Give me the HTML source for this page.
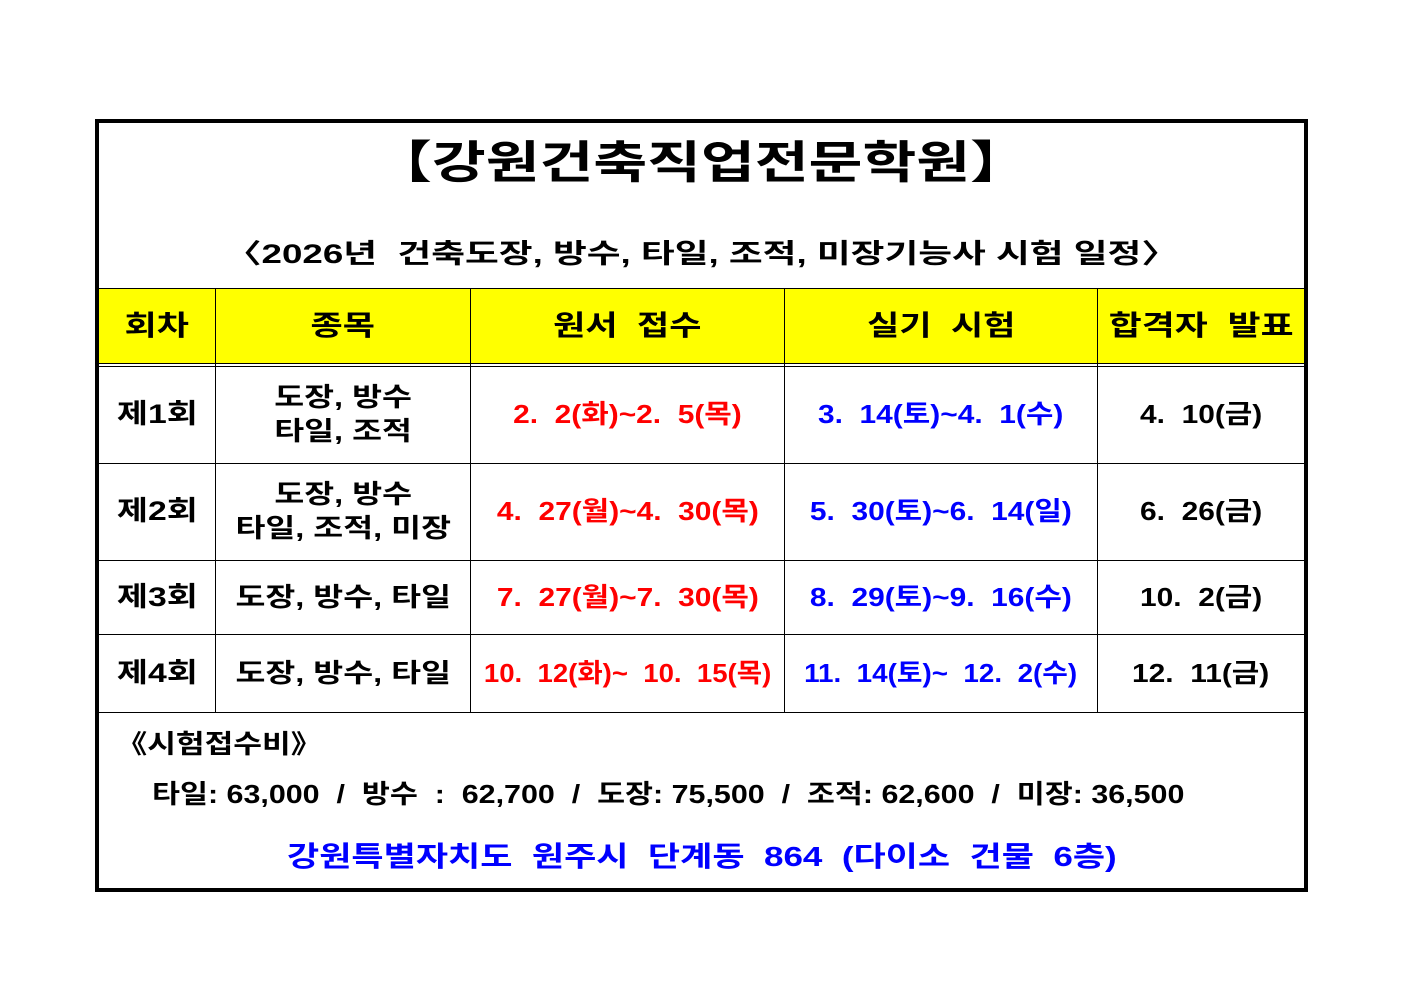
<!DOCTYPE html>
<html><head><meta charset="utf-8"><style>
body{margin:0;background:#fff;width:1403px;height:992px;position:relative;overflow:hidden;font-family:"Liberation Sans","Noto Sans CJK KR","NanumGothic",sans-serif;font-weight:bold}
.a{position:absolute}
.t{position:absolute;display:flex;align-items:center;justify-content:center;text-align:center;white-space:nowrap;line-height:1.3}
.t>span,.a>span{display:inline-block}
.s12>span{transform:scaleX(1.25)}
.s15>span{transform:scaleX(1.15)}
.h{background:#ffff00}
.v{position:absolute;background:#000;width:1px}
.hl{position:absolute;background:#000;height:1px}
</style></head><body>
<div class="a" style="left:95px;top:119px;width:1213px;height:773px;border:3px solid #000;box-sizing:border-box"></div>
<div class="a" style="left:98px;top:122px;width:1207px;height:767px;border:1px solid #000;box-sizing:border-box"></div>
<div class="t" style="left:99px;top:130px;width:1205px;height:66px;font-size:45px"><span style="transform:scaleX(1.3)">【강원건축직업전문학원】</span></div>
<div class="t" style="left:99px;top:234px;width:1205px;height:42px;font-size:27px"><span style="transform:scaleX(1.36)">〈2026년 &nbsp;건축도장, 방수, 타일, 조적, 미장기능사 시험 일정〉</span></div>
<div class="a h" style="left:99px;top:289px;width:1205px;height:74px"></div>
<div class="hl" style="left:99px;top:288px;width:1205px"></div>
<div class="hl" style="left:99px;top:363px;width:1205px"></div>
<div class="hl" style="left:99px;top:366px;width:1205px"></div>
<div class="hl" style="left:99px;top:463px;width:1205px"></div>
<div class="hl" style="left:99px;top:560px;width:1205px"></div>
<div class="hl" style="left:99px;top:634px;width:1205px"></div>
<div class="hl" style="left:99px;top:712px;width:1205px"></div>
<div class="v" style="left:215px;top:288px;height:424px"></div>
<div class="v" style="left:470px;top:288px;height:424px"></div>
<div class="v" style="left:784px;top:288px;height:424px"></div>
<div class="v" style="left:1097px;top:288px;height:424px"></div>
<div class="t s12" style="left:99px;top:289px;width:116px;height:74px;font-size:28px"><span>회차</span></div>
<div class="t s12" style="left:216px;top:289px;width:254px;height:74px;font-size:28px"><span>종목</span></div>
<div class="t s12" style="left:471px;top:289px;width:313px;height:74px;font-size:28px"><span>원서 &nbsp;접수</span></div>
<div class="t s12" style="left:785px;top:289px;width:312px;height:74px;font-size:28px"><span>실기 &nbsp;시험</span></div>
<div class="t" style="left:1098px;top:289px;width:206px;height:74px;font-size:28px"><span style="transform:scaleX(1.28)">합격자 &nbsp;발표</span></div>

<div class="t s12" style="left:99px;top:367px;width:116px;height:96px;font-size:27px"><span>제1회</span></div>
<div class="t s12" style="left:216px;top:367px;width:254px;height:96px;font-size:26px"><span>도장, 방수<br>타일, 조적</span></div>
<div class="t s15" style="left:471px;top:367px;width:313px;height:96px;font-size:26px;color:#f00"><span>2. &nbsp;2(화)~2. &nbsp;5(목)</span></div>
<div class="t s15" style="left:785px;top:367px;width:312px;height:96px;font-size:26px;color:#00f"><span>3. &nbsp;14(토)~4. &nbsp;1(수)</span></div>
<div class="t s15" style="left:1098px;top:367px;width:206px;height:96px;font-size:26px"><span>4. &nbsp;10(금)</span></div>

<div class="t s12" style="left:99px;top:464px;width:116px;height:96px;font-size:27px"><span>제2회</span></div>
<div class="t s12" style="left:216px;top:464px;width:254px;height:96px;font-size:26px"><span>도장, 방수<br>타일, 조적, 미장</span></div>
<div class="t s15" style="left:471px;top:464px;width:313px;height:96px;font-size:26px;color:#f00"><span>4. &nbsp;27(월)~4. &nbsp;30(목)</span></div>
<div class="t s15" style="left:785px;top:464px;width:312px;height:96px;font-size:26px;color:#00f"><span>5. &nbsp;30(토)~6. &nbsp;14(일)</span></div>
<div class="t s15" style="left:1098px;top:464px;width:206px;height:96px;font-size:26px"><span>6. &nbsp;26(금)</span></div>

<div class="t s12" style="left:99px;top:561px;width:116px;height:73px;font-size:27px"><span>제3회</span></div>
<div class="t s12" style="left:216px;top:561px;width:254px;height:73px;font-size:26px"><span>도장, 방수, 타일</span></div>
<div class="t s15" style="left:471px;top:561px;width:313px;height:73px;font-size:26px;color:#f00"><span>7. &nbsp;27(월)~7. &nbsp;30(목)</span></div>
<div class="t s15" style="left:785px;top:561px;width:312px;height:73px;font-size:26px;color:#00f"><span>8. &nbsp;29(토)~9. &nbsp;16(수)</span></div>
<div class="t s15" style="left:1098px;top:561px;width:206px;height:73px;font-size:26px"><span>10. &nbsp;2(금)</span></div>

<div class="t s12" style="left:99px;top:635px;width:116px;height:77px;font-size:27px"><span>제4회</span></div>
<div class="t s12" style="left:216px;top:635px;width:254px;height:77px;font-size:26px"><span>도장, 방수, 타일</span></div>
<div class="t" style="left:471px;top:635px;width:313px;height:77px;font-size:26px;color:#f00"><span style="transform:scaleX(1.06)">10. &nbsp;12(화)~ &nbsp;10. &nbsp;15(목)</span></div>
<div class="t" style="left:785px;top:635px;width:312px;height:77px;font-size:26px;color:#00f"><span style="transform:scaleX(1.07)">11. &nbsp;14(토)~ &nbsp;12. &nbsp;2(수)</span></div>
<div class="t s15" style="left:1098px;top:635px;width:206px;height:77px;font-size:26px"><span>12. &nbsp;11(금)</span></div>

<div class="a" style="left:116px;top:724px;font-size:26px;white-space:nowrap"><span style="transform:scaleX(1.2);transform-origin:left">《시험접수비》</span></div>
<div class="a" style="left:152px;top:774px;font-size:26px;white-space:nowrap"><span style="transform:scaleX(1.17);transform-origin:left">타일: 63,000 &nbsp;/ &nbsp;방수 &nbsp;: &nbsp;62,700 &nbsp;/ &nbsp;도장: 75,500 &nbsp;/ &nbsp;조적: 62,600 &nbsp;/ &nbsp;미장: 36,500</span></div>
<div class="t" style="left:99px;top:835px;width:1205px;height:44px;font-size:28px;color:#00f"><span style="transform:scaleX(1.25)">강원특별자치도 &nbsp;원주시 &nbsp;단계동 &nbsp;864 &nbsp;(다이소 &nbsp;건물 &nbsp;6층)</span></div>
</body></html>
